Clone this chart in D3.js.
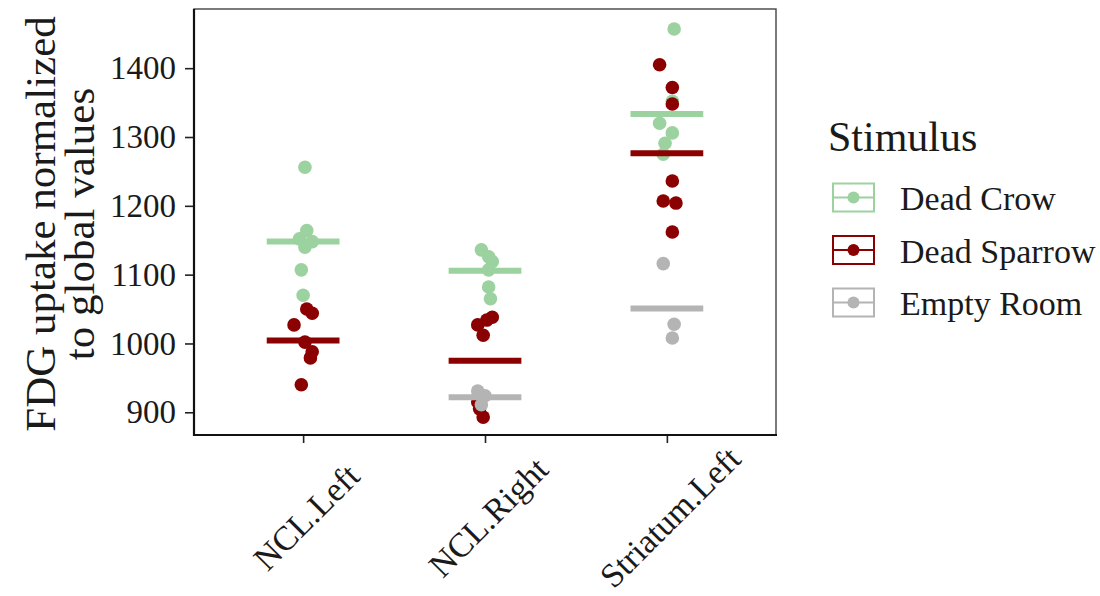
<!DOCTYPE html>
<html>
<head>
<meta charset="utf-8">
<script src="https://cdn.jsdelivr.net/npm/d3@7"></script>
<style>
  body { margin: 0; background: #fff; }
  text { font-family: "Liberation Serif", "Times New Roman", serif; fill: #1a1a1a; }
</style>
</head>
<body>
<div id="chart"></div>
<script>
const regions = ['NCL.Left', 'NCL.Right', 'Striatum.Left'];
const stimuli = ['Dead Crow', 'Dead Sparrow', 'Empty Room'];
const yTicks = [900, 1000, 1100, 1200, 1300, 1400];

// values, per stimulus and region
const crowLeft = [1256, 1164, 1152, 1148, 1140, 1107, 1070];
const crowRight = [1136, 1126, 1119, 1107, 1082, 1065];
const crowStriatum = [1457, 1352, 1320, 1306, 1291, 1275];
const sparrowLeft = [1050, 1044, 1027, 1002, 988, 979, 940];
const sparrowRight = [1038, 1034, 1027, 1012, 915, 905, 893];
const sparrowStriatum = [1405, 1372, 1348, 1236, 1207, 1204, 1162];
const emptyRight = [931, 924, 911];
const emptyStriatum = [1116, 1028, 1008];

// horizontal jitter of each point, in category units
const crowLeftJit = [0.01, 0.02, -0.02, 0.05, 0.01, -0.01, 0];
const crowRightJit = [-0.02, 0.02, 0.04, 0.02, 0.02, 0.03];
const crowStriatumJit = [0.04, 0.03, -0.04, 0.03, -0.01, -0.02];
const sparrowLeftJit = [0.02, 0.05, -0.05, 0.01, 0.05, 0.04, -0.01];
const sparrowRightJit = [0.04, 0.01, -0.04, -0.01, -0.04, -0.03, -0.01];
const sparrowStriatumJit = [-0.04, 0.03, 0.03, 0.03, -0.02, 0.05, 0.03];
const emptyRightJit = [-0.04, 0.0, -0.02];
const emptyStriatumJit = [-0.02, 0.04, 0.03];

const colors = ['#9bd29f', '#8b0000', '#b4b4b4'];

const groups = [
  { stim: 'Dead Crow', region: 'NCL.Left', vals: crowLeft, jit: crowLeftJit },
  { stim: 'Dead Crow', region: 'NCL.Right', vals: crowRight, jit: crowRightJit },
  { stim: 'Dead Crow', region: 'Striatum.Left', vals: crowStriatum, jit: crowStriatumJit },
  { stim: 'Dead Sparrow', region: 'NCL.Left', vals: sparrowLeft, jit: sparrowLeftJit },
  { stim: 'Dead Sparrow', region: 'NCL.Right', vals: sparrowRight, jit: sparrowRightJit },
  { stim: 'Dead Sparrow', region: 'Striatum.Left', vals: sparrowStriatum, jit: sparrowStriatumJit },
  { stim: 'Empty Room', region: 'NCL.Right', vals: emptyRight, jit: emptyRightJit },
  { stim: 'Empty Room', region: 'Striatum.Left', vals: emptyStriatum, jit: emptyStriatumJit }
];

const width = 1100, height = 596;
const panel = { left: 194, top: 9, right: 776, bottom: 435 };

const color = d3.scaleOrdinal().domain(stimuli).range(colors);

// discrete axis with ggplot-style 0.6 expansion on each side
const x = d3.scaleLinear().domain([-0.6, regions.length - 1 + 0.6]).range([panel.left, panel.right]);
const xPos = (region, off) => x(regions.indexOf(region) + (off || 0));
const y = d3.scaleLinear().domain([867, 1486]).range([panel.bottom, panel.top]);

const svg = d3.select('#chart').append('svg')
  .attr('width', width)
  .attr('height', height);

// panel border
svg.append('rect')
  .attr('x', panel.left)
  .attr('y', panel.top)
  .attr('width', panel.right - panel.left)
  .attr('height', panel.bottom - panel.top)
  .attr('fill', 'none')
  .attr('stroke', '#444')
  .attr('stroke-width', 1.4);

// y axis
const yAxis = svg.append('g')
  .attr('transform', `translate(${panel.left},0)`)
  .call(d3.axisLeft(y).tickValues(yTicks).tickSize(9).tickPadding(9).tickFormat(d3.format('d')));
yAxis.select('.domain').remove();
yAxis.selectAll('.tick line').attr('stroke', '#222').attr('stroke-width', 1.6);
yAxis.selectAll('.tick text')
  .attr('font-size', 33)
  .attr('fill', '#1a1a1a')
  .attr('font-family', '"Liberation Serif", serif');

// x axis
const xAxis = svg.append('g')
  .attr('transform', `translate(0,${panel.bottom})`)
  .call(d3.axisBottom(x).tickValues(d3.range(regions.length)).tickSize(8).tickFormat(''));
xAxis.select('.domain').remove();
xAxis.selectAll('.tick line').attr('stroke', '#222').attr('stroke-width', 1.6);

// rotated category labels, centred a little right of and below each tick
svg.append('g').selectAll('text')
  .data(regions)
  .enter().append('text')
  .attr('transform', d => `translate(${xPos(d) + 3},${panel.bottom + 82}) rotate(-45)`)
  .attr('text-anchor', 'middle')
  .attr('dy', '0.35em')
  .attr('font-size', 34)
  .text(d => d);

// axis lines (left and bottom drawn heavier)
svg.append('line')
  .attr('x1', panel.left).attr('x2', panel.left)
  .attr('y1', panel.top).attr('y2', panel.bottom + 1)
  .attr('stroke', '#111').attr('stroke-width', 2.2);
svg.append('line')
  .attr('x1', panel.left - 1).attr('x2', panel.right + 1)
  .attr('y1', panel.bottom).attr('y2', panel.bottom)
  .attr('stroke', '#111').attr('stroke-width', 2.2);

// y title
const yTitle = svg.append('text')
  .attr('transform', 'translate(0,224) rotate(-90)')
  .attr('text-anchor', 'middle')
  .attr('font-size', 43);
yTitle.append('tspan').attr('x', 0).attr('y', 55).text('FDG uptake normalized');
yTitle.append('tspan').attr('x', 0).attr('y', 94).text('to global values');

// points
const points = [];
groups.forEach(g => {
  g.vals.forEach((v, i) => points.push({ stim: g.stim, region: g.region, value: v, jit: g.jit[i] }));
});

svg.append('g').selectAll('circle')
  .data(points)
  .enter().append('circle')
  .attr('cx', d => xPos(d.region, d.jit))
  .attr('cy', d => y(d.value))
  .attr('r', 6.8)
  .attr('fill', d => color(d.stim));

// group means as flat crossbars
const halfWidth = 0.2;
svg.append('g').selectAll('line')
  .data(groups)
  .enter().append('line')
  .attr('x1', d => xPos(d.region, -halfWidth))
  .attr('x2', d => xPos(d.region, halfWidth))
  .attr('y1', d => y(d3.mean(d.vals)))
  .attr('y2', d => y(d3.mean(d.vals)))
  .attr('stroke', d => color(d.stim))
  .attr('stroke-width', 6);

// legend
const legend = svg.append('g').attr('transform', 'translate(828,0)');
legend.append('text')
  .attr('x', 0)
  .attr('y', 151)
  .attr('font-size', 42)
  .text('Stimulus');

const keys = legend.selectAll('g.key')
  .data(stimuli)
  .enter().append('g')
  .attr('class', 'key')
  .attr('transform', (d, i) => `translate(0,${197.5 + i * 52.5})`);

keys.append('rect')
  .attr('x', 5).attr('y', -14)
  .attr('width', 41).attr('height', 28)
  .attr('fill', 'none')
  .attr('stroke', d => color(d))
  .attr('stroke-width', 2);
keys.append('line')
  .attr('x1', 5).attr('x2', 46)
  .attr('y1', 0).attr('y2', 0)
  .attr('stroke', d => color(d))
  .attr('stroke-width', 2.2);
keys.append('circle')
  .attr('cx', 25.5).attr('cy', 0)
  .attr('r', 6)
  .attr('fill', d => color(d));
keys.append('text')
  .attr('x', 72)
  .attr('y', 12.5)
  .attr('font-size', 34)
  .text(d => d);
</script>
</body>
</html>
